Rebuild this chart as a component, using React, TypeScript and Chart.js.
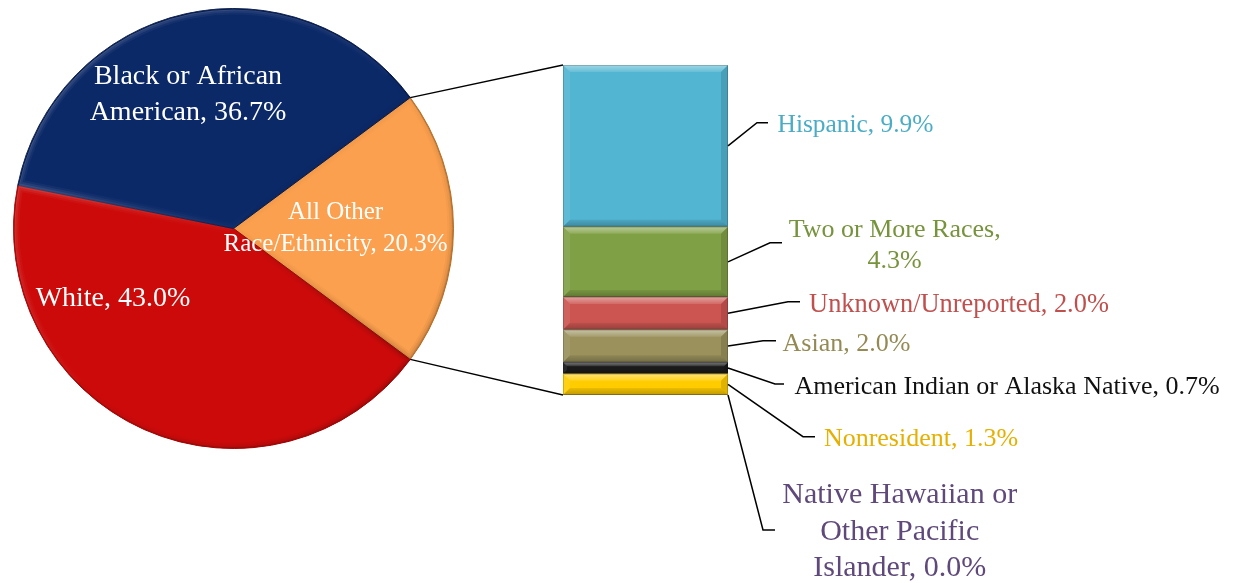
import React, { useEffect, useRef } from 'react';
import { Chart, registerables } from 'chart.js';
Chart.register(...registerables);

// ---------- data ----------
const pieCategories = ['All Other Race/Ethnicity', 'White', 'Black or African American'];
const pieValues = [20.3, 43.0, 36.7];
const pieColors = ['#FBA04E', '#CC0A0A', '#0B2867'];
const pieBorderColors = ['#B97430', '#A00808', '#061A4A'];
const pieLabelLines = [['All Other', 'Race/Ethnicity, 20.3%'], ['White, 43.0%'], ['Black or African', 'American, 36.7%']];

const barCategories = [
  'Native Hawaiian or Other Pacific Islander',
  'Nonresident',
  'American Indian or Alaska Native',
  'Asian',
  'Unknown/Unreported',
  'Two or More Races',
  'Hispanic',
];
const barValues = [0.0, 1.3, 0.7, 2.0, 2.0, 4.3, 9.9];
const barColors = ['#604A7B', '#FFCC00', '#1A1A1A', '#9A915C', '#CC5551', '#80A045', '#52B5D2'];
const barTextColors = ['#5F497A', '#E6B000', '#111111', '#948A54', '#C0504D', '#77933C', '#4BACC6'];
const barLabelLines = [
  ['Native Hawaiian or', 'Other Pacific', 'Islander, 0.0%'],
  ['Nonresident, 1.3%'],
  ['American Indian or Alaska Native, 0.7%'],
  ['Asian, 2.0%'],
  ['Unknown/Unreported, 2.0%'],
  ['Two or More Races,', '4.3%'],
  ['Hispanic, 9.9%'],
];

// ---------- layout ----------
const W = 1240;
const H = 583;
const FONT = '"Liberation Serif", "Times New Roman", serif';
const pieLabelLayout = [
  { cx: 335.5, base: [219.3, 251], size: 25 },
  { cx: 113, base: [305.7], size: 28 },
  { cx: 188, base: [84.3, 120], size: 28 },
];
const barLabelLayout = [
  { cx: 899.7, base: [503.3, 540, 576], size: 30, elbow: [763, 530], end: [775, 530] },
  { cx: 921, base: [446], size: 26, elbow: [803, 436.7], end: [815, 436.7] },
  { cx: 1007, base: [394.3], size: 26, elbow: [775, 384], end: [784, 384] },
  { cx: 846.5, base: [350.7], size: 26, elbow: [763, 340.7], end: [776, 340.7] },
  { cx: 959, base: [311.7], size: 26.4, elbow: [788, 301.7], end: [800, 301.7] },
  { cx: 894.7, base: [237.3, 268.3], size: 26, elbow: [770, 242.7], end: [782, 242.7] },
  { cx: 855.5, base: [132.3], size: 25.4, elbow: [757, 122.7], end: [768, 122.7] },
];

function drawLines(ctx: CanvasRenderingContext2D, lines: string[], cx: number, bases: number[], size: number, color: string) {
  ctx.save();
  ctx.font = `${size}px ${FONT}`;
  ctx.fillStyle = color;
  ctx.textAlign = 'center';
  ctx.textBaseline = 'alphabetic';
  lines.forEach((t, i) => ctx.fillText(t, cx, bases[i]));
  ctx.restore();
}

export default function App() {
  const pieRef = useRef<HTMLCanvasElement>(null);
  const barRef = useRef<HTMLCanvasElement>(null);

  useEffect(() => {
    document.body.style.overflow = 'hidden';
    const total = pieValues.reduce((a, b) => a + b, 0);
    const rotation = 90 - (pieValues[0] / total) * 180;

    const pieDecorPlugin = {
      id: 'pieDecor',
      afterDatasetsDraw(chart: any) {
        const ctx: CanvasRenderingContext2D = chart.ctx;
        // soft bevel on each slice
        chart.getDatasetMeta(0).data.forEach((arc: any, i: number) => {
          const p = arc.getProps(['x', 'y', 'startAngle', 'endAngle', 'outerRadius'], true);
          const path = () => {
            ctx.beginPath();
            ctx.moveTo(p.x, p.y);
            ctx.arc(p.x, p.y, p.outerRadius, p.startAngle, p.endAngle);
            ctx.closePath();
          };
          ctx.save();
          path();
          ctx.clip();
          const g = ctx.createLinearGradient(p.x - p.outerRadius, p.y - p.outerRadius, p.x + p.outerRadius, p.y + p.outerRadius);
          g.addColorStop(0, 'rgba(255,255,255,0.55)');
          g.addColorStop(0.5, 'rgba(255,255,255,0.05)');
          g.addColorStop(0.5, 'rgba(0,0,0,0.05)');
          g.addColorStop(1, 'rgba(0,0,0,0.45)');
          ctx.strokeStyle = g;
          ctx.lineJoin = 'round';
          [[12, 0.12], [8, 0.18], [4, 0.25]].forEach(([lw, a]) => {
            ctx.globalAlpha = a;
            ctx.lineWidth = lw;
            path();
            ctx.stroke();
          });
          ctx.restore();
          ctx.save();
          ctx.strokeStyle = pieBorderColors[i];
          ctx.lineWidth = 1;
          ctx.beginPath();
          ctx.arc(p.x, p.y, p.outerRadius - 0.5, p.startAngle, p.endAngle);
          ctx.stroke();
          ctx.restore();
        });
        pieLabelLines.forEach((lines, i) => {
          const l = pieLabelLayout[i];
          drawLines(ctx, lines, l.cx, l.base, l.size, '#FFFFFF');
        });
      },
    };

    const pie = new Chart(pieRef.current!, {
      type: 'pie',
      data: {
        labels: pieCategories,
        datasets: [{
          data: pieValues,
          backgroundColor: pieColors,
          borderColor: pieBorderColors,
          borderWidth: 1,
        }],
      },
      options: {
        responsive: false,
        animation: false,
        rotation,
        layout: { padding: { left: 13, top: 8, right: W - 13 - 441, bottom: H - 8 - 441 } },
        plugins: { legend: { display: false }, tooltip: { enabled: false } },
      },
      plugins: [pieDecorPlugin],
    });

    const barPlugin = {
      id: 'barDecor',
      afterDatasetsDraw(chart: any) {
        const ctx: CanvasRenderingContext2D = chart.ctx;
        // bevels
        chart.data.datasets.forEach((_: any, di: number) => {
          const el = chart.getDatasetMeta(di).data[0];
          if (!el) return;
          const { x, y, base, width } = el.getProps(['x', 'y', 'base', 'width'], true);
          const l = x - width / 2, r = x + width / 2, t = Math.min(y, base), b = Math.max(y, base);
          const h = b - t;
          if (h < 1) return;
          const bv = Math.min(7, h / 3);
          ctx.save();
          const quad = (pts: number[][], c: any) => {
            ctx.beginPath();
            ctx.moveTo(pts[0][0], pts[0][1]);
            for (let k = 1; k < pts.length; k++) ctx.lineTo(pts[k][0], pts[k][1]);
            ctx.closePath();
            ctx.fillStyle = c;
            ctx.fill();
          };
          const gt = ctx.createLinearGradient(0, t, 0, t + bv);
          gt.addColorStop(0, 'rgba(255,255,255,0.45)');
          gt.addColorStop(1, 'rgba(255,255,255,0.12)');
          quad([[l, t], [r, t], [r - bv, t + bv], [l + bv, t + bv]], gt);
          quad([[l, t], [l + bv, t + bv], [l + bv, b - bv], [l, b]], 'rgba(255,255,255,0.08)');
          const gb = ctx.createLinearGradient(0, b - bv, 0, b);
          gb.addColorStop(0, 'rgba(0,0,0,0.08)');
          gb.addColorStop(1, 'rgba(0,0,0,0.25)');
          quad([[l, b], [l + bv, b - bv], [r - bv, b - bv], [r, b]], gb);
          quad([[r, t], [r, b], [r - bv, b - bv], [r - bv, t + bv]], 'rgba(0,0,0,0.12)');
          ctx.strokeStyle = 'rgba(0,0,0,0.18)';
          ctx.lineWidth = 1;
          ctx.strokeRect(l + 0.5, t + 0.5, width - 1, h - 1);
          ctx.restore();
        });

        // connectors from pie "other" slice to the bar
        const arc: any = pie.getDatasetMeta(0).data[0];
        const ap = arc.getProps(['x', 'y', 'startAngle', 'endAngle', 'outerRadius'], true);
        const firstEl = chart.getDatasetMeta(0).data[0].getProps(['x', 'base', 'width'], true);
        const lastEl = chart.getDatasetMeta(chart.data.datasets.length - 1).data[0].getProps(['x', 'y', 'width'], true);
        const barLeft = firstEl.x - firstEl.width / 2;
        ctx.save();
        ctx.strokeStyle = '#000';
        ctx.lineWidth = 1.3;
        ctx.beginPath();
        ctx.moveTo(ap.x + ap.outerRadius * Math.cos(ap.startAngle), ap.y + ap.outerRadius * Math.sin(ap.startAngle));
        ctx.lineTo(barLeft, lastEl.y);
        ctx.moveTo(ap.x + ap.outerRadius * Math.cos(ap.endAngle), ap.y + ap.outerRadius * Math.sin(ap.endAngle));
        ctx.lineTo(barLeft, firstEl.base);
        ctx.stroke();
        ctx.restore();

        // leader lines + labels
        chart.data.datasets.forEach((_: any, di: number) => {
          const el = chart.getDatasetMeta(di).data[0];
          const { x, y, base, width } = el.getProps(['x', 'y', 'base', 'width'], true);
          const sx = x + width / 2;
          const sy = (y + base) / 2;
          const L = barLabelLayout[di];
          ctx.save();
          ctx.strokeStyle = '#000';
          ctx.lineWidth = 1.5;
          ctx.beginPath();
          ctx.moveTo(sx, sy);
          ctx.lineTo(L.elbow[0], L.elbow[1]);
          ctx.lineTo(L.end[0], L.end[1]);
          ctx.stroke();
          ctx.restore();
          drawLines(ctx, barLabelLines[di], L.cx, L.base, L.size, barTextColors[di]);
        });
      },
    };

    const bar = new Chart(barRef.current!, {
      type: 'bar',
      data: {
        labels: [''],
        datasets: barCategories.map((c, i) => ({
          label: c,
          data: [barValues[i]],
          backgroundColor: barColors[i],
          borderWidth: 0,
          barPercentage: 1,
          categoryPercentage: 1,
        })),
      },
      options: {
        responsive: false,
        animation: false,
        layout: { padding: { left: 563, right: W - 728, top: 65, bottom: H - 395 } },
        scales: {
          x: { stacked: true, display: false },
          y: { stacked: true, display: false, min: 0, max: barValues.reduce((a, b) => a + b, 0) },
        },
        plugins: { legend: { display: false }, tooltip: { enabled: false } },
      },
      plugins: [barPlugin],
    });

    return () => {
      bar.destroy();
      pie.destroy();
    };
  }, []);

  return (
    <div style={{ position: 'absolute', left: 0, top: 0, width: W, height: H, background: '#fff' }}>
      <canvas ref={pieRef} width={W} height={H} style={{ position: 'absolute', left: 0, top: 0 }} />
      <canvas ref={barRef} width={W} height={H} style={{ position: 'absolute', left: 0, top: 0 }} />
    </div>
  );
}
